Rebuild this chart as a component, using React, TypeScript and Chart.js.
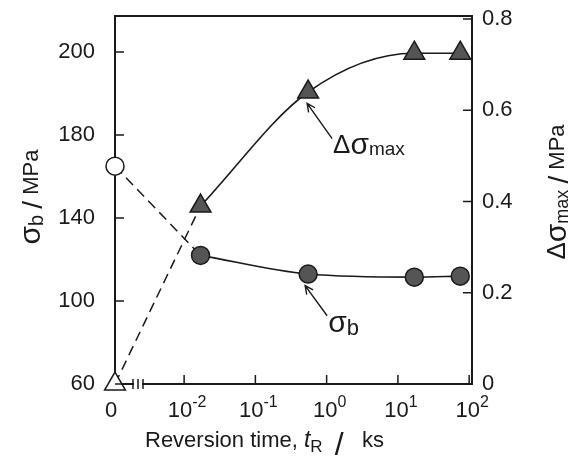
import React, { useEffect, useRef } from 'react';
import { Chart, registerables } from 'chart.js';

Chart.register(...registerables);

// ---- data ----
const reversionTimeKs = [0.017, 0.55, 17, 75];
const sigmaBMPa = [122, 113, 111.5, 112];
const deltaSigmaMaxMPa = [0.39, 0.64, 0.725, 0.725];
const sigmaBAtZero = 165;
const deltaSigmaMaxAtZero = 0;

const xTickExponents = [-2, -1, 0, 1, 2];
const zeroTickLabel = '0';
const leftTickValues = [60, 100, 140, 180, 220];
const leftTickLabels = ['60', '100', '140', '180', '200'];
const rightTickValues = [0, 0.2, 0.4, 0.6, 0.8];
const rightTickLabels = ['0', '0.2', '0.4', '0.6', '0.8'];

// ---- scale settings ----
const X_MIN = -2.97;
const X_MAX = 2.04;
const YL_MIN = 60;
const YL_MAX = 237.4;
const YR_MIN = 0;
const YR_MAX = 0.8066;

const INK = '#1a1a1a';
const MARK_FILL = '#555555';
const FONT = '"Liberation Sans", Arial, sans-serif';

type Part = { t: string; size: number; dy?: number; italic?: boolean };

function drawRich(
  ctx: CanvasRenderingContext2D,
  parts: Part[],
  x: number,
  y: number,
  align: 'left' | 'center' | 'right'
) {
  const fontOf = (p: Part) => `${p.italic ? 'italic ' : ''}${p.size}px ${FONT}`;
  const widths = parts.map((p) => {
    ctx.font = fontOf(p);
    return ctx.measureText(p.t).width;
  });
  const total = widths.reduce((a, b) => a + b, 0);
  let cx = align === 'left' ? x : align === 'center' ? x - total / 2 : x - total;
  ctx.textAlign = 'left';
  ctx.textBaseline = 'middle';
  parts.forEach((p, i) => {
    ctx.font = fontOf(p);
    ctx.fillText(p.t, cx, y + (p.dy ?? 0));
    cx += widths[i];
  });
}

function arrow(ctx: CanvasRenderingContext2D, x1: number, y1: number, x2: number, y2: number) {
  ctx.beginPath();
  ctx.moveTo(x1, y1);
  ctx.lineTo(x2, y2);
  const a = Math.atan2(y2 - y1, x2 - x1);
  const L = 9;
  const w = 0.45;
  ctx.moveTo(x2 - L * Math.cos(a - w), y2 - L * Math.sin(a - w));
  ctx.lineTo(x2, y2);
  ctx.lineTo(x2 - L * Math.cos(a + w), y2 - L * Math.sin(a + w));
  ctx.stroke();
}

const decorPlugin = {
  id: 'decor',
  afterDraw(chart: any) {
    const { ctx, chartArea: ca, scales } = chart;
    const xs = scales.x;
    const yl = scales.yL;
    const yr = scales.yR;
    ctx.save();
    ctx.strokeStyle = INK;
    ctx.fillStyle = INK;

    // top frame
    ctx.lineWidth = 2;
    ctx.beginPath();
    ctx.moveTo(ca.left - 1, ca.top);
    ctx.lineTo(ca.right + 1, ca.top);
    ctx.stroke();

    // inward tick marks
    const TL = 9;
    ctx.lineWidth = 1.5;
    ctx.beginPath();
    xTickExponents.forEach((v) => {
      const px = xs.getPixelForValue(v);
      ctx.moveTo(px, ca.bottom);
      ctx.lineTo(px, ca.bottom - TL);
    });
    leftTickValues.forEach((v) => {
      const py = yl.getPixelForValue(v);
      ctx.moveTo(ca.left, py);
      ctx.lineTo(ca.left + TL, py);
    });
    rightTickValues.forEach((v) => {
      const py = yr.getPixelForValue(v);
      ctx.moveTo(ca.right, py);
      ctx.lineTo(ca.right - TL, py);
    });
    ctx.stroke();

    // axis break on the bottom axis
    const b1 = ca.left + 18;
    const b2 = ca.left + 23;
    const b3 = ca.left + 28;
    ctx.fillStyle = '#ffffff';
    ctx.fillRect(b1 + 1, ca.bottom - 2, b3 - b1 - 2, 4);
    ctx.fillStyle = INK;
    ctx.lineWidth = 1.5;
    ctx.beginPath();
    [b1, b2, b3].forEach((bx) => {
      ctx.moveTo(bx, ca.bottom - 5);
      ctx.lineTo(bx, ca.bottom + 5);
    });
    ctx.stroke();

    // x tick labels with superscripts
    const labelY = ca.bottom + 27;
    drawRich(ctx, [{ t: zeroTickLabel, size: 22 }], xs.getPixelForValue(X_MIN) - 4, labelY, 'center');
    xTickExponents.forEach((e) => {
      const px = xs.getPixelForValue(e);
      const expText = e < 0 ? '-' + Math.abs(e) : String(e);
      drawRich(
        ctx,
        [
          { t: '10', size: 22 },
          { t: expText, size: 16, dy: -8 },
        ],
        px + 3,
        labelY,
        'center'
      );
    });

    // x title
    drawRich(
      ctx,
      [
        { t: 'Reversion time, ', size: 22 },
        { t: 't', size: 23, italic: true },
        { t: 'R', size: 17, dy: 6 },
        { t: '  ', size: 22 },
        { t: '/', size: 32, dy: 5 },
        { t: '   ks', size: 22 },
      ],
      145,
      ca.bottom + 57,
      'left'
    );

    // left title
    ctx.save();
    ctx.translate(32, (ca.top + ca.bottom) / 2 - 3);
    ctx.rotate(-Math.PI / 2);
    drawRich(
      ctx,
      [
        { t: 'σ', size: 30 },
        { t: 'b', size: 20, dy: 5 },
        { t: ' ', size: 22 },
        { t: '/', size: 28, dy: 2 },
        { t: ' MPa', size: 22 },
      ],
      0,
      0,
      'center'
    );
    ctx.restore();

    // right title
    ctx.save();
    ctx.translate(558, (ca.top + ca.bottom) / 2 - 8);
    ctx.rotate(-Math.PI / 2);
    drawRich(
      ctx,
      [
        { t: 'Δ', size: 26 },
        { t: 'σ', size: 30 },
        { t: 'max', size: 18, dy: 5 },
        { t: ' ', size: 22 },
        { t: '/', size: 28, dy: 2 },
        { t: ' MPa', size: 22 },
      ],
      0,
      0,
      'center'
    );
    ctx.restore();

    // annotations
    ctx.lineWidth = 1.4;
    const dLabelX = xs.getPixelForValue(0.09);
    const dLabelY = yr.getPixelForValue(0.523);
    drawRich(
      ctx,
      [
        { t: 'Δ', size: 26 },
        { t: 'σ', size: 30 },
        { t: 'max', size: 19, dy: 4 },
      ],
      dLabelX,
      dLabelY,
      'left'
    );
    arrow(
      ctx,
      xs.getPixelForValue(0.077),
      yr.getPixelForValue(0.538),
      xs.getPixelForValue(-0.274),
      yr.getPixelForValue(0.615)
    );

    const sLabelX = xs.getPixelForValue(0.021);
    const sLabelY = yl.getPixelForValue(89);
    drawRich(
      ctx,
      [
        { t: 'σ', size: 30 },
        { t: 'b', size: 22, dy: 5 },
      ],
      sLabelX,
      sLabelY,
      'left'
    );
    arrow(
      ctx,
      xs.getPixelForValue(0.007),
      yl.getPixelForValue(92.9),
      xs.getPixelForValue(-0.302),
      yl.getPixelForValue(107.4)
    );

    ctx.restore();
  },
};

const noScalePadding = (s: any) => {
  s.paddingTop = 0;
  s.paddingBottom = 0;
  s.paddingLeft = 0;
  s.paddingRight = 0;
};

export default function App() {
  const ref = useRef<HTMLCanvasElement>(null);

  useEffect(() => {
    document.body.style.margin = '0';
    const canvas = ref.current;
    if (!canvas) return;
    const logT = reversionTimeKs.map((t) => Math.log10(t));

    const chart = new Chart(canvas, {
      type: 'line',
      data: {
        datasets: [
          {
            label: 'σb',
            data: logT.map((x, i) => ({ x, y: sigmaBMPa[i] })),
            yAxisID: 'yL',
            borderColor: INK,
            borderWidth: 1.6,
            cubicInterpolationMode: 'monotone',
            pointStyle: 'circle',
            pointRadius: 9,
            pointBackgroundColor: MARK_FILL,
            pointBorderColor: INK,
            pointBorderWidth: 1.5,
            clip: false,
          },
          {
            label: 'Δσmax',
            data: logT.map((x, i) => ({ x, y: deltaSigmaMaxMPa[i] })),
            yAxisID: 'yR',
            borderColor: INK,
            borderWidth: 1.6,
            cubicInterpolationMode: 'monotone',
            pointStyle: 'triangle',
            pointRadius: 12,
            pointBackgroundColor: MARK_FILL,
            pointBorderColor: INK,
            pointBorderWidth: 1.5,
            clip: false,
          },
          {
            label: 'σb dashed',
            data: [
              { x: X_MIN, y: sigmaBAtZero },
              { x: logT[0], y: sigmaBMPa[0] },
            ],
            yAxisID: 'yL',
            borderColor: INK,
            borderWidth: 1.5,
            borderDash: [10, 6],
            pointStyle: 'circle',
            pointRadius: [9, 0],
            pointBackgroundColor: '#ffffff',
            pointBorderColor: INK,
            pointBorderWidth: 1.5,
            clip: false,
          },
          {
            label: 'Δσmax dashed',
            data: [
              { x: X_MIN, y: deltaSigmaMaxAtZero },
              { x: logT[0], y: deltaSigmaMaxMPa[0] },
            ],
            yAxisID: 'yR',
            borderColor: INK,
            borderWidth: 1.5,
            borderDash: [10, 6],
            pointStyle: 'triangle',
            pointRadius: [12, 0],
            pointBackgroundColor: '#ffffff',
            pointBorderColor: INK,
            pointBorderWidth: 1.5,
            clip: false,
          },
        ],
      },
      options: {
        responsive: false,
        animation: false,
        devicePixelRatio: 1,
        layout: { padding: { top: 16, left: 0, right: 0, bottom: 0 } },
        plugins: { legend: { display: false }, tooltip: { enabled: false } },
        scales: {
          x: {
            type: 'linear',
            min: X_MIN,
            max: X_MAX,
            grid: { display: false, drawTicks: false },
            border: { display: true, color: INK, width: 2 },
            ticks: { display: false },
            afterBuildTicks: (s: any) => {
              s.ticks = xTickExponents.map((v) => ({ value: v }));
            },
            afterFit: (s: any) => {
              s.height = 79;
              noScalePadding(s);
            },
          },
          yL: {
            type: 'linear',
            position: 'left',
            min: YL_MIN,
            max: YL_MAX,
            grid: { display: false, drawTicks: false },
            border: { display: true, color: INK, width: 2 },
            ticks: {
              padding: 20,
              color: INK,
              font: { family: FONT, size: 22 },
              callback: (v: any) => leftTickLabels[leftTickValues.indexOf(v)] ?? '',
            },
            afterBuildTicks: (s: any) => {
              s.ticks = leftTickValues.map((v) => ({ value: v }));
            },
            afterFit: (s: any) => {
              s.width = 115;
              noScalePadding(s);
            },
          },
          yR: {
            type: 'linear',
            position: 'right',
            min: YR_MIN,
            max: YR_MAX,
            grid: { display: false, drawTicks: false },
            border: { display: true, color: INK, width: 2 },
            ticks: {
              padding: 10,
              color: INK,
              font: { family: FONT, size: 22 },
              callback: (v: any) => rightTickLabels[rightTickValues.indexOf(v)] ?? '',
            },
            afterBuildTicks: (s: any) => {
              s.ticks = rightTickValues.map((v) => ({ value: v }));
            },
            afterFit: (s: any) => {
              s.width = 105;
              noScalePadding(s);
            },
          },
        },
      } as any,
      plugins: [decorPlugin],
    });

    return () => chart.destroy();
  }, []);

  return (
    <div style={{ width: 577, height: 463 }}>
      <canvas ref={ref} width={577} height={463} style={{ display: 'block' }} />
    </div>
  );
}
